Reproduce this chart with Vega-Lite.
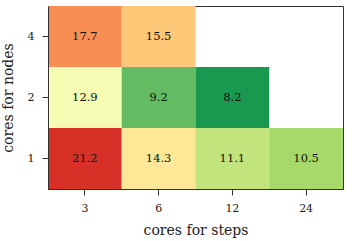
{
  "$schema": "https://vega.github.io/schema/vega-lite/v6.json",
  "autosize": "none",
  "padding": {"left": 48, "top": 6, "right": 9, "bottom": 52},
  "width": 295,
  "height": 183,
  "background": "white",
  "data": {"values": [
    {"steps": "3", "nodes": "4", "time": 17.7},
    {"steps": "6", "nodes": "4", "time": 15.5},
    {"steps": "3", "nodes": "2", "time": 12.9},
    {"steps": "6", "nodes": "2", "time": 9.2},
    {"steps": "12", "nodes": "2", "time": 8.2},
    {"steps": "3", "nodes": "1", "time": 21.2},
    {"steps": "6", "nodes": "1", "time": 14.3},
    {"steps": "12", "nodes": "1", "time": 11.1},
    {"steps": "24", "nodes": "1", "time": 10.5}
  ]},
  "config": {
    "font": "DejaVu Serif",
    "view": {"stroke": "#333333", "strokeWidth": 1},
    "axis": {
      "labelFont": "DejaVu Serif",
      "titleFont": "DejaVu Serif",
      "labelColor": "#222222",
      "titleColor": "#222222",
      "tickColor": "#333333",
      "domainColor": "#333333",
      "labelFontSize": 11,
      "titleFontSize": 14,
      "titleFontWeight": "normal",
      "tickSize": 6,
      "grid": false
    }
  },
  "encoding": {
    "x": {
      "field": "steps", "type": "ordinal",
      "sort": ["3", "6", "12", "24"],
      "scale": {"domain": ["3", "6", "12", "24"], "paddingInner": 0, "paddingOuter": 0},
      "axis": {"title": "cores for steps", "labelAngle": 0, "labelPadding": 7, "titlePadding": 10}
    },
    "y": {
      "field": "nodes", "type": "ordinal",
      "scale": {"domain": ["4", "2", "1"], "paddingInner": 0, "paddingOuter": 0},
      "axis": {"title": "cores for nodes", "labelPadding": 8, "titlePadding": 12}
    }
  },
  "layer": [
    {
      "mark": {"type": "rect"},
      "encoding": {
        "color": {
          "field": "time", "type": "quantitative",
          "scale": {
            "domain": [8.2, 9.2, 10.5, 11.1, 12.9, 14.3, 15.5, 17.7, 21.2],
            "range": ["#1a9850", "#63bc62", "#a6d96a", "#c1e47c", "#f5fbb2", "#fee897", "#fdc877", "#f98e52", "#d73027"]
          },
          "legend": null
        }
      }
    },
    {
      "mark": {"type": "text", "fontSize": 11.5, "font": "DejaVu Serif", "color": "#111111"},
      "encoding": {
        "text": {"field": "time", "type": "quantitative", "format": ".1f"}
      }
    }
  ]
}
